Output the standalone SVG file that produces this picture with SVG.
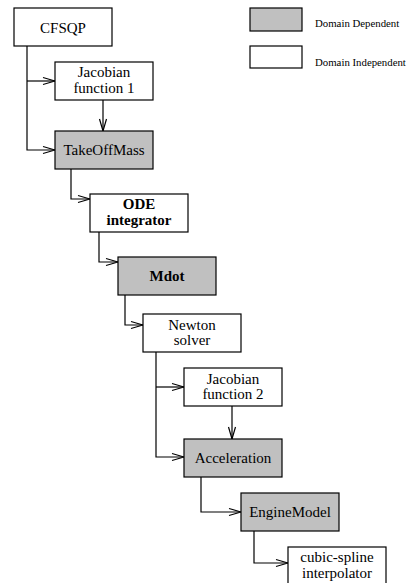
<svg xmlns="http://www.w3.org/2000/svg" width="407" height="583" viewBox="0 0 407 583">
  <style>
    .box { stroke: #000; stroke-width: 1.2; }
    .dep { fill: #c0c0c0; }
    .ind { fill: #fff; }
    .lbl { font-family: "Liberation Serif", "Times New Roman", serif; font-size: 15px; fill: #000; text-anchor: middle; }
    .bold { font-weight: bold; }
    .key { font-family: "Liberation Serif", "Times New Roman", serif; font-size: 10.8px; fill: #000; }
    .wire { fill: none; stroke: #000; stroke-width: 1.2; marker-end: url(#arrow); }
  </style>
  <defs>
    <marker id="arrow" markerUnits="userSpaceOnUse" markerWidth="14" markerHeight="10" viewBox="-13 -5 14 10" refX="0" refY="0" orient="auto">
      <path d="M-12,-3.5 L0,0 L-12,3.5" fill="none" stroke="#000" stroke-width="1.2"/>
    </marker>
  </defs>
  <rect width="407" height="583" fill="#fff"/>

  <!-- legend -->
  <g id="legend">
    <rect class="box dep" x="250" y="8" width="52" height="23"/>
    <text class="key" x="315" y="27">Domain Dependent</text>
    <rect class="box ind" x="250" y="46" width="52" height="22"/>
    <text class="key" x="315" y="66">Domain Independent</text>
  </g>

  <!-- connectors -->
  <g id="connectors">
    <path class="wire" d="M27,46 V150 H55"/>
    <path class="wire" d="M27,81 H55"/>
    <path class="wire" d="M103,100 V131"/>
    <path class="wire" d="M71,169 V199 H90"/>
    <path class="wire" d="M99,232 V262 H118"/>
    <path class="wire" d="M125,295 V325 H143"/>
    <path class="wire" d="M156,352 V457 H184"/>
    <path class="wire" d="M156,387 H184"/>
    <path class="wire" d="M232,406 V439"/>
    <path class="wire" d="M201,477 V512 H241"/>
    <path class="wire" d="M254,531 V563 H288"/>
  </g>

  <!-- nodes -->
  <g id="cfsqp">
    <rect class="box ind" x="14" y="8" width="98" height="38"/>
    <text class="lbl" x="63" y="33">CFSQP</text>
  </g>
  <g id="jacobian1">
    <rect class="box ind" x="55" y="62" width="98" height="38"/>
    <text class="lbl" x="104" y="77">Jacobian</text>
    <text class="lbl" x="104" y="93">function 1</text>
  </g>
  <g id="takeoffmass">
    <rect class="box dep" x="55" y="131" width="98" height="38"/>
    <text class="lbl" x="104" y="155">TakeOffMass</text>
  </g>
  <g id="ode">
    <rect class="box ind" x="90" y="194" width="98" height="38"/>
    <text class="lbl bold" x="139" y="209">ODE</text>
    <text class="lbl bold" x="139" y="225">integrator</text>
  </g>
  <g id="mdot">
    <rect class="box dep" x="118" y="257" width="98" height="38"/>
    <text class="lbl bold" x="167" y="281">Mdot</text>
  </g>
  <g id="newton">
    <rect class="box ind" x="143" y="314" width="98" height="38"/>
    <text class="lbl" x="192" y="330">Newton</text>
    <text class="lbl" x="192" y="345">solver</text>
  </g>
  <g id="jacobian2">
    <rect class="box ind" x="184" y="368" width="98" height="38"/>
    <text class="lbl" x="233" y="384">Jacobian</text>
    <text class="lbl" x="233" y="399">function 2</text>
  </g>
  <g id="acceleration">
    <rect class="box dep" x="184" y="439" width="98" height="38"/>
    <text class="lbl" x="233" y="463">Acceleration</text>
  </g>
  <g id="enginemodel">
    <rect class="box dep" x="241" y="493" width="98" height="38"/>
    <text class="lbl" x="290" y="517">EngineModel</text>
  </g>
  <g id="cubicspline">
    <rect class="box ind" x="288" y="547" width="98" height="40"/>
    <text class="lbl" x="337" y="562">cubic-spline</text>
    <text class="lbl" x="337" y="578">interpolator</text>
  </g>
</svg>
